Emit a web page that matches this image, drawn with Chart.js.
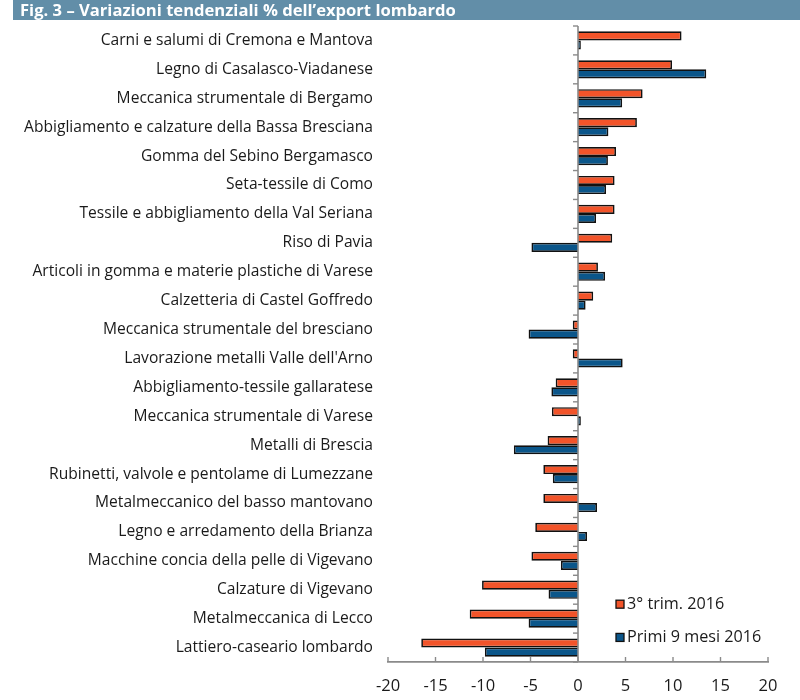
<!DOCTYPE html>
<html>
<head>
<meta charset="utf-8">
<script src="https://cdn.jsdelivr.net/npm/chart.js@4.4.1/dist/chart.umd.min.js"></script>
<style>
  html, body { margin: 0; padding: 0; background: #fff; }
  #wrap { position: relative; width: 800px; height: 700px; }
  #title {
    position: absolute; left: 13px; top: 0; width: 787px; height: 20px;
    background: #628ea8; color: #fff; font-family: "Open Sans", sans-serif;
    font-weight: bold; font-size: 16.6px; line-height: 20px; padding-left: 7px; box-sizing: border-box;
    white-space: nowrap;
  }
  canvas { position: absolute; left: 0; top: 0; }
</style>
</head>
<body>
<div id="wrap">
  <canvas id="c" width="800" height="700"></canvas>
  <div id="title">Fig. 3 – Variazioni tendenziali % dell’export lombardo</div>
</div>
<script>
const categories = [
  "Carni e salumi di Cremona e Mantova",
  "Legno di Casalasco-Viadanese",
  "Meccanica strumentale di Bergamo",
  "Abbigliamento e calzature della Bassa Bresciana",
  "Gomma del Sebino Bergamasco",
  "Seta-tessile di Como",
  "Tessile e abbigliamento della Val Seriana",
  "Riso di Pavia",
  "Articoli in gomma e materie plastiche di Varese",
  "Calzetteria di Castel Goffredo",
  "Meccanica strumentale del bresciano",
  "Lavorazione metalli Valle dell'Arno",
  "Abbigliamento-tessile gallaratese",
  "Meccanica strumentale di Varese",
  "Metalli di Brescia",
  "Rubinetti, valvole e pentolame di Lumezzane",
  "Metalmeccanico del basso mantovano",
  "Legno e arredamento della Brianza",
  "Macchine concia della pelle di Vigevano",
  "Calzature di Vigevano",
  "Metalmeccanica di Lecco",
  "Lattiero-caseario lombardo"
];
const trim3_2016 = [10.9, 9.9, 6.8, 6.2, 4.0, 3.85, 3.85, 3.6, 2.1, 1.6, -0.55, -0.55, -2.35, -2.75, -3.2, -3.65, -3.65, -4.5, -4.9, -10.1, -11.4, -16.5];
const primi9mesi_2016 = [0.3, 13.5, 4.65, 3.2, 3.15, 2.95, 1.9, -4.9, 2.85, 0.8, -5.2, 4.7, -2.8, 0.3, -6.75, -2.65, 2.0, 0.95, -1.8, -3.1, -5.2, -9.8];
const seriesLabels = ["3° trim. 2016", "Primi 9 mesi 2016"];
const xTicks = [-20, -15, -10, -5, 0, 5, 10, 15, 20];

const ORANGE = "#F2542A";
const BLUE = "#0B568A";
const AXIS = "#8a8a8a";
const FONT = '"Open Sans", sans-serif';

const axisPlugin = {
  id: "zeroAxis",
  afterDatasetsDraw(chart) {
    const { ctx, chartArea, scales } = chart;
    const x = scales.x, y = scales.y;
    const x0 = x.getPixelForValue(0);
    const band = y.getPixelForValue(1) - y.getPixelForValue(0);
    ctx.save();
    ctx.strokeStyle = AXIS;
    ctx.lineWidth = 1.6;
    ctx.beginPath();
    ctx.moveTo(x0, chartArea.top);
    ctx.lineTo(x0, chartArea.bottom);
    ctx.stroke();
    ctx.lineWidth = 1.4;
    const n = categories.length;
    for (let i = 0; i <= n; i++) {
      const py = y.getPixelForValue(Math.min(i, n - 1)) + (i < n ? -band / 2 : band / 2);
      ctx.beginPath();
      ctx.moveTo(x0 - 5, py);
      ctx.lineTo(x0, py);
      ctx.stroke();
    }
    xTicks.forEach(v => {
      const px = x.getPixelForValue(v);
      ctx.beginPath();
      ctx.moveTo(px, chartArea.bottom);
      ctx.lineTo(px, chartArea.bottom - 5);
      ctx.stroke();
    });
    // legend
    const lx = x.getPixelForValue(4.0);
    const ly = [y.getPixelForValue(19.5), y.getPixelForValue(20.65)];
    ctx.font = "16.2px " + FONT;
    ctx.textBaseline = "middle";
    ctx.textAlign = "left";
    chart.data.datasets.forEach((ds, i) => {
      ctx.fillStyle = ds.backgroundColor;
      ctx.fillRect(lx, ly[i] - 4, 8, 8);
      ctx.strokeStyle = "#111";
      ctx.lineWidth = 1.3;
      ctx.strokeRect(lx, ly[i] - 4, 8, 8);
      ctx.fillStyle = "#1a1a1a";
      ctx.fillText(ds.label, lx + 11, ly[i]);
    });
    ctx.restore();
  }
};

new Chart(document.getElementById("c"), {
  type: "bar",
  data: {
    labels: categories,
    datasets: [
      { label: seriesLabels[0], data: trim3_2016, backgroundColor: ORANGE, borderColor: "#111", borderWidth: 1.7 },
      { label: seriesLabels[1], data: primi9mesi_2016, backgroundColor: BLUE, borderColor: "#111", borderWidth: 1.7 }
    ]
  },
  options: {
    indexAxis: "y",
    responsive: false,
    animation: false,
    devicePixelRatio: 1,
    datasets: { bar: { categoryPercentage: 0.63, barPercentage: 1.0 } },
    layout: { padding: { top: 26, right: 32, bottom: 0, left: 0 } },
    plugins: { legend: { display: false }, tooltip: { enabled: false }, title: { display: false } },
    scales: {
      x: {
        min: -20, max: 20,
        afterBuildTicks(scale) { scale.ticks = xTicks.map(v => ({ value: v })); },
        afterFit(scale) { scale.height = 38; },
        grid: { display: false, drawTicks: false },
        border: { display: true, color: AXIS, width: 1.8 },
        ticks: { color: "#1a1a1a", font: { family: FONT, size: 16.5 }, padding: 14 }
      },
      y: {
        grid: { display: false, drawTicks: false },
        border: { display: false },
        afterFit(scale) { scale.width = 388; },
        ticks: { color: "#1a1a1a", font: { family: FONT, size: 15.6 }, padding: 15, autoSkip: false }
      }
    }
  },
  plugins: [axisPlugin]
});
</script>
</body>
</html>
